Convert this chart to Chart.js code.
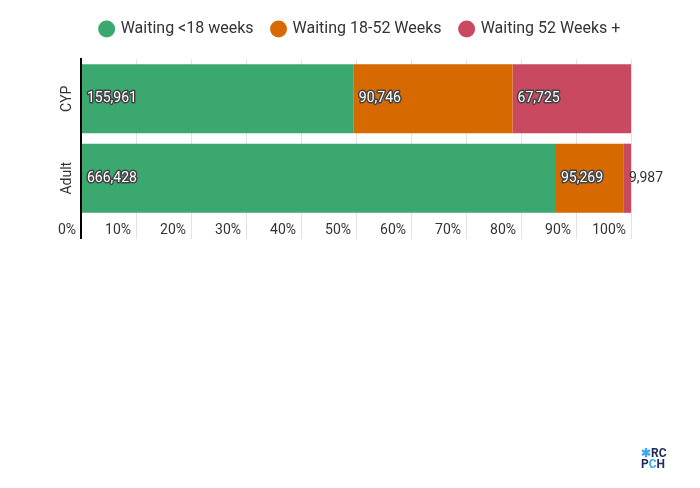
<!DOCTYPE html>
<html>
<head>
<meta charset="utf-8">
<script src="https://cdn.jsdelivr.net/npm/chart.js@4.4.1/dist/chart.umd.min.js"></script>
<style>
  html, body { margin: 0; padding: 0; background: #fff; }
  #wrap { position: relative; width: 700px; height: 488px; }
  .logo { position: absolute; left: 641px; top: 448px; font: bold 12px Roboto, sans-serif; line-height: 11px; color: #1f2a5c; }
  .logo .lb { color: #3fa9f5; }
</style>
</head>
<body>
<div id="wrap">
  <canvas id="chart" width="700" height="488"></canvas>
  <div class="logo"><span class="lb">&#10033;</span>RC<br>P<span class="lb">C</span>H</div>
</div>
<script>
// groups and counts
const groups = ['CYP', 'Adult'];
const under18 = [155961, 666428];
const weeks18to52 = [90746, 95269];
const over52 = [67725, 9987];
const seriesNames = ['Waiting <18 weeks', 'Waiting 18-52 Weeks', 'Waiting 52 Weeks +'];
const seriesColors = ['#3aa86f', '#d66a00', '#c94a60'];
const xTicks = [0, 10, 20, 30, 40, 50, 60, 70, 80, 90, 100];

const totals = groups.map((g, i) => under18[i] + weeks18to52[i] + over52[i]);
const pct = arr => arr.map((v, i) => v / totals[i] * 100);
const counts = [under18, weeks18to52, over52];

// value labels at the start of each segment
const segLabels = {
    id: 'segLabels',
    afterDatasetsDraw(chart) {
        const ctx = chart.ctx;
        ctx.save();
        ctx.font = '14px Roboto';
        ctx.textBaseline = 'middle';
        ctx.textAlign = 'left';
        ctx.lineJoin = 'round';
        chart.data.datasets.forEach((ds, di) => {
            chart.getDatasetMeta(di).data.forEach((bar, i) => {
                const txt = counts[di][i].toLocaleString('en-GB');
                const left = Math.min(bar.x, bar.base);
                const w = Math.abs(bar.x - bar.base);
                const tw = ctx.measureText(txt).width;
                if (tw + 10 < w) {
                    ctx.strokeStyle = '#444';
                    ctx.lineWidth = 3;
                    ctx.strokeText(txt, left + 5, bar.y);
                    ctx.fillStyle = '#fff';
                    ctx.fillText(txt, left + 5, bar.y);
                } else {
                    ctx.fillStyle = '#333';
                    ctx.fillText(txt, left + 5, bar.y);
                }
            });
        });
        ctx.restore();
    }
};

// centre the legend the way the original does
const legendShift = {
    id: 'legendShift',
    afterLayout(chart) {
        chart.legend.left += 45;
        chart.legend.right += 45;
    }
};

const ctx = document.getElementById('chart').getContext('2d');
new Chart(ctx, {
    type: 'bar',
    data: {
        labels: groups,
        datasets: seriesNames.map((name, i) => ({
            label: name,
            data: pct(counts[i]),
            backgroundColor: seriesColors[i],
            borderWidth: 0,
            categoryPercentage: 0.87,
            barPercentage: 1
        }))
    },
    options: {
        indexAxis: 'y',
        responsive: false,
        animation: false,
        layout: { padding: { left: 0, right: 69, top: 2, bottom: 0 } },
        plugins: {
            legend: {
                position: 'top',
                labels: {
                    usePointStyle: true,
                    pointStyle: 'circle',
                    boxHeight: 12,
                    boxWidth: 12,
                    padding: 19,
                    color: '#333',
                    font: { family: 'Roboto', size: 16 }
                }
            },
            tooltip: { enabled: false }
        },
        scales: {
            x: {
                stacked: true,
                min: 0,
                max: 100,
                afterBuildTicks: axis => { axis.ticks = xTicks.map(v => ({ value: v })); },
                afterFit: axis => { axis.height = 270; },
                border: { display: false },
                grid: {
                    color: c => c.tick && c.tick.value === 0 ? '#000' : '#e3e3e3',
                    lineWidth: c => c.tick && c.tick.value === 0 ? 2 : 1,
                    tickLength: 21
                },
                ticks: {
                    align: 'end',
                    labelOffset: -5,
                    padding: -17,
                    color: '#333',
                    font: { family: 'Roboto', size: 14 },
                    callback: v => v + '%'
                }
            },
            xTop: {
                position: 'top',
                axis: 'x',
                display: true,
                afterFit: axis => { axis.height = 12; },
                border: { display: false },
                grid: { display: false, drawTicks: false },
                ticks: { display: false }
            },
            y: {
                stacked: true,
                afterFit: axis => { axis.width = 81; },
                border: { display: true, color: '#000', width: 2 },
                grid: { display: false, drawTicks: false },
                ticks: {
                    minRotation: 90,
                    maxRotation: 90,
                    crossAlign: 'center',
                    padding: -3,
                    color: '#333',
                    font: { family: 'Roboto', size: 14 }
                }
            }
        }
    },
    plugins: [segLabels, legendShift]
});
</script>
</body>
</html>
